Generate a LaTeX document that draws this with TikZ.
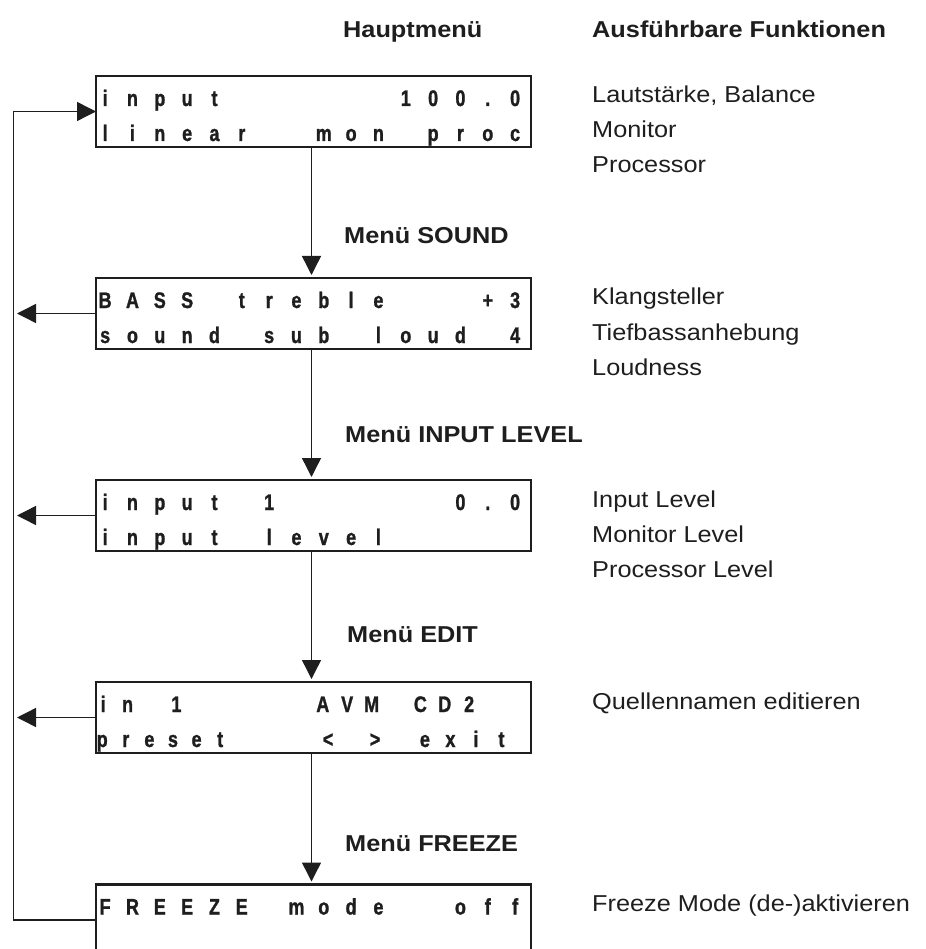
\documentclass[tikz,border=0pt]{standalone}
\usepackage{fontspec}
\setmainfont[FakeStretch=1.1]{Liberation Sans}
\newfontfamily\lcdfont[FakeStretch=0.8,FakeBold=1.2]{Liberation Sans Bold}
\usetikzlibrary{arrows.meta,calc}
\definecolor{ink}{RGB}{30,30,30}
\def\lcdend{LCDEND}
\newcommand\lcdrow[2][27.33pt]{\def\lcdpitch{#1}\lcdA#2\lcdend}
\def\lcdA#1{\ifx#1\lcdend\else\makebox[\lcdpitch]{\ifx#1_\else#1\fi}\expandafter\lcdA\fi}
\tikzset{
  lcdbox/.style={draw=ink, line width=2.2pt, minimum width=435pt, minimum height=71pt, inner sep=0pt, outer sep=0pt},
  lcdtxt/.style={anchor=base west, inner sep=0pt, text=ink, font=\lcdfont\fontsize{22.5}{24}\selectfont},
  fn/.style={anchor=base west, inner sep=0pt, text=ink, font=\fontsize{23}{28}\selectfont},
  hd/.style={anchor=base west, inner sep=0pt, text=ink, font=\bfseries\fontsize{23}{28}\selectfont},
  conn/.style={draw=ink, line width=1.4pt},
  arr/.style={conn, -{Triangle[length=19pt,width=19pt]}},
}
\begin{document}
\begin{tikzpicture}[x=1pt,y=-1pt]
\path[use as bounding box, clip] (0,0) rectangle (925,949);

\node[hd] (hm) at (343,38) {Hauptmenü};
\node[hd] (af) at (592,38) {Ausführbare Funktionen};

\node[lcdbox] (b1) at (313.5,111.5) {};
\node[lcdbox] (b2) at (313.5,313.5) {};
\node[lcdbox] (b3) at (313.5,515.5) {};
\node[lcdbox] (b4) at (313.5,717.5) {};
\node[lcdbox] (b5) at (313.5,920) {};

\coordinate (L) at (13.5,0);
\coordinate (X) at (311.5,0);

% LCD rows
\node[lcdtxt] (b1a) at ($(b1.north west)+(-4.7,30)$) {\lcdrow{input______100.0}};
\node[lcdtxt] (b1b) at ($(b1.north west)+(-4.7,65)$) {\lcdrow{linear__mon_proc}};
\node[lcdtxt] (b2a) at ($(b2.north west)+(-4.7,30)$) {\lcdrow{BASS_treble___+3}};
\node[lcdtxt] (b2b) at ($(b2.north west)+(-4.7,65)$) {\lcdrow{sound_sub_loud_4}};
\node[lcdtxt] (b3a) at ($(b3.north west)+(-4.7,30)$) {\lcdrow{input_1______0.0}};
\node[lcdtxt] (b3b) at ($(b3.north west)+(-4.7,65)$) {\lcdrow{input_level}};
\node[lcdtxt] (b4a) at ($(b4.north west)+(-5.2,30)$) {\lcdrow[24.4pt]{in_1_____AVM_CD2}};
\node[lcdtxt] (b4b) at ($(b4.north west)+(-5.8,65)$) {\lcdrow[23.6pt]{preset}};
\node[lcdtxt, anchor=base] (b4c) at ($(b4.north west)+(232,65)$) {<};
\node[lcdtxt, anchor=base] (b4d) at ($(b4.north west)+(279,65)$) {>};
\node[lcdtxt] (b4e) at ($(b4.north west)+(316,65)$) {\lcdrow[25.5pt]{exit}};
\node[lcdtxt] (b5a) at ($(b5.north west)+(-4.7,30)$) {\lcdrow{FREEZE_mode__off}};

% functions
\node[fn] (f1a) at ($(b1.north west)+(496,27)$) {Lautstärke, Balance};
\node[fn] (f1b) at ($(b1.north west)+(496,62)$) {Monitor};
\node[fn] (f1c) at ($(b1.north west)+(496,97)$) {Processor};
\node[fn] (f2a) at ($(b2.north west)+(496,27)$) {Klangsteller};
\node[fn] (f2b) at ($(b2.north west)+(496,62)$) {Tiefbassanhebung};
\node[fn] (f2c) at ($(b2.north west)+(496,97)$) {Loudness};
\node[fn] (f3a) at ($(b3.north west)+(496,27)$) {Input Level};
\node[fn] (f3b) at ($(b3.north west)+(496,62)$) {Monitor Level};
\node[fn] (f3c) at ($(b3.north west)+(496,97)$) {Processor Level};
\node[fn] (f4a) at ($(b4.north west)+(496,27)$) {Quellennamen editieren};
\node[fn] (f5a) at ($(b5.north west)+(496,27)$) {Freeze Mode (de-)aktivieren};

% menu headings
\node[hd] (m2) at ($(b2.north west)+(248,-34)$) {Menü SOUND};
\node[hd] (m3) at ($(b3.north west)+(249,-38)$) {Menü INPUT LEVEL};
\node[hd] (m4) at ($(b4.north west)+(251,-40)$) {Menü EDIT};
\node[hd] (m5) at ($(b5.north west)+(249,-33)$) {Menü FREEZE};

% vertical chain
\draw[arr, shorten >=3pt] (b1.south -| X) -- (b2.north -| X);
\draw[arr, shorten >=3pt] (b2.south -| X) -- (b3.north -| X);
\draw[arr, shorten >=3pt] (b3.south -| X) -- (b4.north -| X);
\draw[arr, shorten >=3pt] (b4.south -| X) -- (b5.north -| X);

% left exits
\draw[arr, shorten >=3.5pt] (b2.west) -- (b2.west -| L);
\draw[arr, shorten >=3.5pt] (b3.west) -- (b3.west -| L);
\draw[arr, shorten >=3.5pt] (b4.west) -- (b4.west -| L);

% return loop
\draw[arr] (b5.west) -- (b5.west -| L) |- (b1.west);
\end{tikzpicture}
\end{document}
